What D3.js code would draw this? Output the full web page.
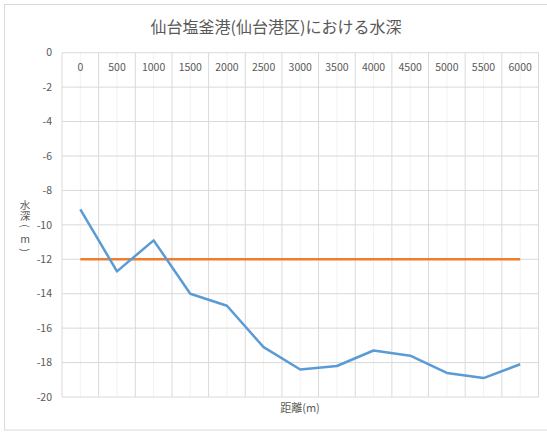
<!DOCTYPE html>
<html><head><meta charset="utf-8">
<script src="https://cdn.jsdelivr.net/npm/d3@7"></script>
<style>
html,body{margin:0;padding:0;background:#fff;}
text{font-family:"Noto Sans CJK JP","Noto Sans",sans-serif;fill:#595959;}
</style></head>
<body><svg id="c" width="547" height="434"></svg>
<script>
const categories = [0,500,1000,1500,2000,2500,3000,3500,4000,4500,5000,5500,6000];
const depthValues = [-9.1,-12.7,-10.9,-14.0,-14.7,-17.1,-18.4,-18.2,-17.3,-17.6,-18.6,-18.9,-18.1];
const planValues = [-12,-12,-12,-12,-12,-12,-12,-12,-12,-12,-12,-12,-12];
const yTicks = [0,-2,-4,-6,-8,-10,-12,-14,-16,-18,-20];
const titleText = "仙台塩釜港(仙台港区)における水深";
const xTitle = "距離(m)";
const yTitleParts = ["水深","(","m",")"];

const svg = d3.select("#c");
svg.append("rect").attr("x",4.5).attr("y",4.5).attr("width",560).attr("height",425.5)
  .attr("fill","#fff").attr("stroke","#d9d9d9").attr("stroke-width",1);

const L=62, R=538.5, T=52.7, B=397;
const x = d3.scaleBand().domain(categories).range([L,R]).paddingInner(0).paddingOuter(0);
const y = d3.scaleLinear().domain([-20,0]).range([B,T]);
const cx = d => x(d)+x.bandwidth()/2;

const g = svg.append("g");
g.selectAll(".vmin").data(categories).join("line")
  .attr("x1",d=>cx(d)).attr("x2",d=>cx(d)).attr("y1",T).attr("y2",B)
  .attr("stroke","#f2f2f2").attr("stroke-width",1);
const bounds = categories.map(d=>x(d)).concat([R]);
g.selectAll(".vmaj").data(bounds).join("line")
  .attr("x1",d=>d).attr("x2",d=>d).attr("y1",T).attr("y2",B)
  .attr("stroke","#d9d9d9").attr("stroke-width",1);
g.selectAll(".h").data(yTicks).join("line")
  .attr("x1",L).attr("x2",R).attr("y1",d=>y(d)).attr("y2",d=>y(d))
  .attr("stroke","#d9d9d9").attr("stroke-width",1);

g.selectAll(".yl").data(yTicks).join("text")
  .attr("x",52).attr("y",d=>y(d)).attr("dy","0.35em").attr("text-anchor","end")
  .attr("font-size",10.5).text(d=>d);
g.selectAll(".xl").data(categories).join("text")
  .attr("x",d=>cx(d)).attr("y",71).attr("text-anchor","middle")
  .attr("font-size",10.5).text(d=>d);

const line = d3.line().x((d,i)=>cx(categories[i])).y(d=>y(d));
g.append("path").datum(planValues).attr("d",line).attr("fill","none")
  .attr("stroke","#ed7d31").attr("stroke-width",2.5);
g.append("path").datum(depthValues).attr("d",line).attr("fill","none")
  .attr("stroke","#5b9bd5").attr("stroke-width",2.5).attr("stroke-linejoin","round");

svg.append("text").attr("x",276).attr("y",33).attr("text-anchor","middle")
  .attr("font-size",16).text(titleText);
svg.append("text").attr("x",300).attr("y",412).attr("text-anchor","middle")
  .attr("font-size",11).text(xTitle);

// y title: "水深" stacked in one element, parens rotated about their centres
svg.append("text").attr("font-size",10.5)
  .attr("x","19.75 19.75").attr("y","209 220").text(yTitleParts[0]);
svg.append("text").attr("font-size",10.5).attr("text-anchor","middle")
  .attr("dominant-baseline","central")
  .attr("transform","translate(25,226) rotate(90)").text(yTitleParts[1]);
svg.append("text").attr("font-size",10.5).attr("text-anchor","middle")
  .attr("x",25).attr("y",243).text(yTitleParts[2]);
svg.append("text").attr("font-size",10.5).attr("text-anchor","middle")
  .attr("dominant-baseline","central")
  .attr("transform","translate(25,250) rotate(90)").text(yTitleParts[3]);
</script></body></html>
